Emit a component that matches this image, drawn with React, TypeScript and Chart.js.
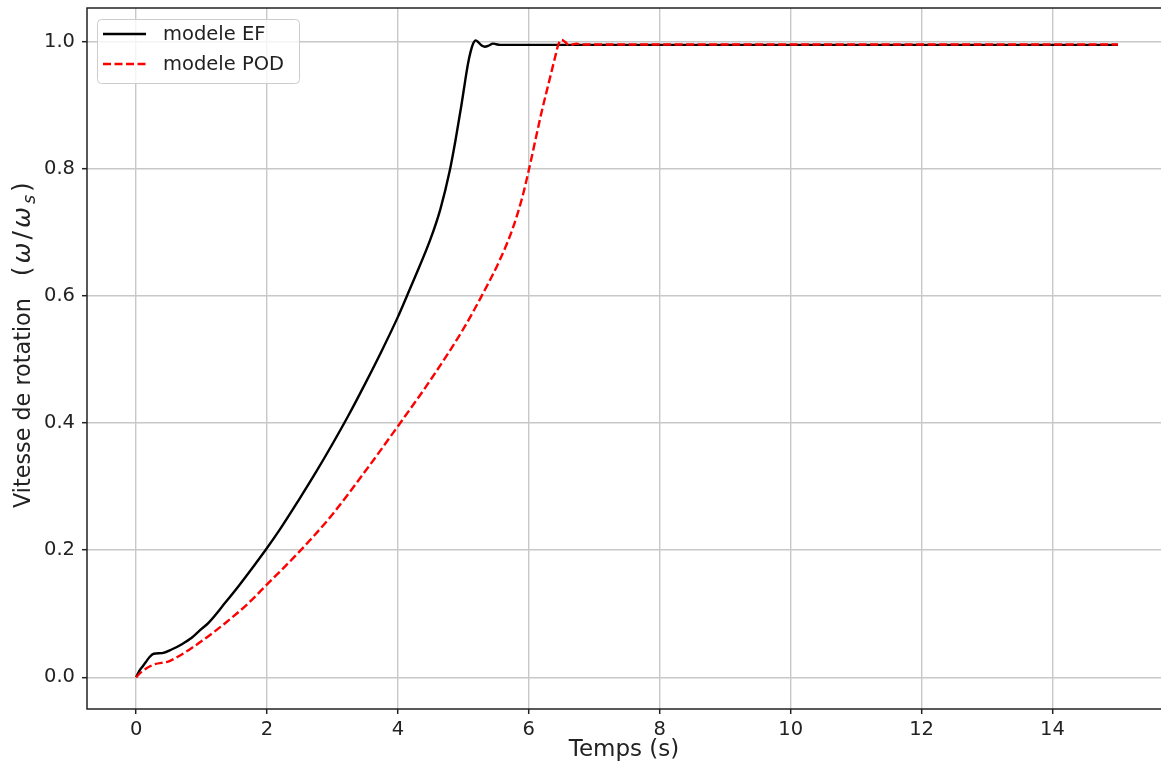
import { useEffect, useRef } from 'react';
import Chart from 'chart.js/auto';

const tEF = [0, 0.05, 0.1, 0.15, 0.2, 0.27, 0.4, 0.55, 0.7, 0.85, 1.0, 1.11, 1.36, 1.6, 1.97, 2.2, 2.48, 2.75, 3.0, 3.25, 3.5, 3.75, 4.0, 4.13, 4.25, 4.5, 4.65, 4.79, 4.88, 4.97, 5.03, 5.07, 5.11, 5.15, 5.19, 5.23, 5.28, 5.33, 5.39, 5.45, 5.5, 5.56, 6.0, 8.0, 10.0, 12.0, 15.0];
const vEF = [0, 0.010, 0.017, 0.024, 0.031, 0.037, 0.038, 0.044, 0.052, 0.062, 0.076, 0.086, 0.117, 0.148, 0.199, 0.233, 0.278, 0.323, 0.367, 0.413, 0.462, 0.513, 0.567, 0.598, 0.627, 0.690, 0.737, 0.796, 0.845, 0.900, 0.940, 0.965, 0.984, 0.997, 1.002, 0.999, 0.994, 0.992, 0.994, 0.997, 0.996, 0.995, 0.995, 0.995, 0.995, 0.995, 0.995];

const tPOD = [0, 0.09, 0.27, 0.5, 0.65, 0.85, 1.11, 1.36, 1.69, 2.0, 2.48, 2.99, 3.5, 4.0, 4.5, 5.0, 5.28, 5.55, 5.75, 5.9, 6.0, 6.1, 6.19, 6.28, 6.34, 6.4, 6.45, 6.5, 6.56, 6.62, 6.68, 6.73, 6.8, 7.0, 9.0, 11.0, 13.0, 15.0];
const vPOD = [0, 0.009, 0.020, 0.025, 0.033, 0.046, 0.065, 0.085, 0.114, 0.146, 0.196, 0.255, 0.324, 0.395, 0.468, 0.548, 0.600, 0.655, 0.705, 0.755, 0.798, 0.845, 0.887, 0.925, 0.950, 0.975, 0.995, 1.003, 0.999, 0.994, 0.996, 0.997, 0.9955, 0.9955, 0.9955, 0.9955, 0.9955, 0.9955];

const xTicks = [0, 2, 4, 6, 8, 10, 12, 14];
const yTicks = [0, 0.2, 0.4, 0.6, 0.8, 1.0];
const seriesLabels = ['modele EF', 'modele POD'];
const xTitle = 'Temps (s)';
const yTitleText = 'Vitesse de rotation';

const FONT = "'DejaVu Sans', sans-serif";

export default function App() {
  const ref = useRef<HTMLCanvasElement>(null);

  useEffect(() => {
    if (!ref.current) return;

    const overlay = {
      id: 'overlay',
      afterDraw(chart: any) {
        const { ctx, chartArea: a } = chart;
        ctx.save();
        // frame (spines)
        ctx.strokeStyle = '#222';
        ctx.lineWidth = 1.5;
        ctx.strokeRect(a.left, a.top, a.right - a.left, a.bottom - a.top);

        // legend
        const lx = 97, ly = 19, lw = 202, lh = 64;
        ctx.beginPath();
        (ctx as any).roundRect(lx + 0.5, ly + 0.5, lw, lh, 4);
        ctx.fillStyle = 'rgba(255,255,255,0.8)';
        ctx.fill();
        ctx.strokeStyle = '#cccccc';
        ctx.lineWidth = 1;
        ctx.stroke();
        const rows = [34, 64];
        chart.data.datasets.forEach((ds: any, i: number) => {
          const y = rows[i];
          ctx.beginPath();
          ctx.setLineDash(ds.borderDash || []);
          ctx.strokeStyle = ds.borderColor;
          ctx.lineWidth = ds.borderWidth;
          ctx.moveTo(103, y);
          ctx.lineTo(146, y);
          ctx.stroke();
          ctx.setLineDash([]);
          ctx.fillStyle = '#222';
          ctx.font = `19.5px ${FONT}`;
          ctx.textAlign = 'left';
          ctx.textBaseline = 'middle';
          ctx.fillText(ds.label, 163, y + 1);
        });

        // x title
        ctx.fillStyle = '#222';
        ctx.font = `23px ${FONT}`;
        ctx.textAlign = 'center';
        ctx.textBaseline = 'middle';
        ctx.fillText(xTitle, 624, 750);

        // y title (rotated)
        ctx.translate(30, 508);
        ctx.rotate(-Math.PI / 2);
        ctx.textAlign = 'left';
        ctx.textBaseline = 'alphabetic';
        ctx.font = `22.3px ${FONT}`;
        ctx.fillText(yTitleText, 0, 0);
        let x = ctx.measureText(yTitleText).width + 22;
        const parts: { t: string; f: string; dy: number }[] = [
          { t: '(', f: `25px ${FONT}`, dy: 0 },
          { t: 'ω', f: `italic 25px ${FONT}`, dy: 0 },
          { t: '/', f: `25px ${FONT}`, dy: 0 },
          { t: 'ω', f: `italic 25px ${FONT}`, dy: 0 },
          { t: 's', f: `italic 17.5px ${FONT}`, dy: 5 },
          { t: ')', f: `25px ${FONT}`, dy: 0 },
        ];
        for (const p of parts) {
          ctx.font = p.f;
          ctx.fillText(p.t, x, p.dy);
          x += ctx.measureText(p.t).width + 3;
        }
        ctx.restore();
      },
    };

    const tickFont = { family: FONT, size: 19.5 };

    const chart = new Chart(ref.current, {
      type: 'line',
      data: {
        datasets: [
          {
            label: seriesLabels[0],
            data: tEF.map((t, i) => ({ x: t, y: vEF[i] })),
            borderColor: '#000000',
            borderWidth: 2.4,
            pointRadius: 0,
            cubicInterpolationMode: 'monotone',
            fill: false,
            order: 1,
          },
          {
            label: seriesLabels[1],
            data: tPOD.map((t, i) => ({ x: t, y: vPOD[i] })),
            borderColor: '#ff0000',
            borderWidth: 2.4,
            borderDash: [8, 3.5],
            pointRadius: 0,
            cubicInterpolationMode: 'monotone',
            fill: false,
            order: 0,
          },
        ],
      },
      options: {
        responsive: false,
        animation: false,
        devicePixelRatio: 1,
        layout: { padding: { left: 0, top: 8, right: 8, bottom: 0 } },
        plugins: { legend: { display: false }, tooltip: { enabled: false } },
        scales: {
          x: {
            type: 'linear',
            min: -0.75,
            max: 15.75,
            afterBuildTicks: (s: any) => {
              s.ticks = xTicks.map((v) => ({ value: v }));
            },
            afterFit: (s: any) => {
              s.height = 58;
              s.paddingLeft = 0;
              s.paddingRight = 0;
            },
            grid: { color: '#c8c8c8', lineWidth: 1.4, tickLength: 5, tickColor: '#222', tickWidth: 1.5 },
            border: { display: false },
            ticks: {
              font: tickFont,
              color: '#222',
              padding: 4,
              maxRotation: 0,
              autoSkip: false,
              callback: (v: any) => String(v),
            },
          },
          y: {
            type: 'linear',
            min: -0.05,
            max: 1.053,
            afterBuildTicks: (s: any) => {
              s.ticks = yTicks.map((v) => ({ value: v }));
            },
            afterFit: (s: any) => {
              s.width = 87;
              s.paddingTop = 0;
              s.paddingBottom = 0;
            },
            grid: { color: '#c8c8c8', lineWidth: 1.4, tickLength: 5, tickColor: '#222', tickWidth: 1.5 },
            border: { display: false },
            ticks: {
              font: tickFont,
              color: '#222',
              padding: 7,
              autoSkip: false,
              callback: (v: any) => Number(v).toFixed(1),
            },
          },
        },
      },
      plugins: [overlay],
    } as any);

    return () => chart.destroy();
  }, []);

  return (
    <div style={{ position: 'absolute', left: 0, top: 0, width: 1161, height: 767, overflow: 'hidden', background: '#ffffff' }}>
      <canvas ref={ref} width={1175} height={767} style={{ display: 'block' }} />
    </div>
  );
}
